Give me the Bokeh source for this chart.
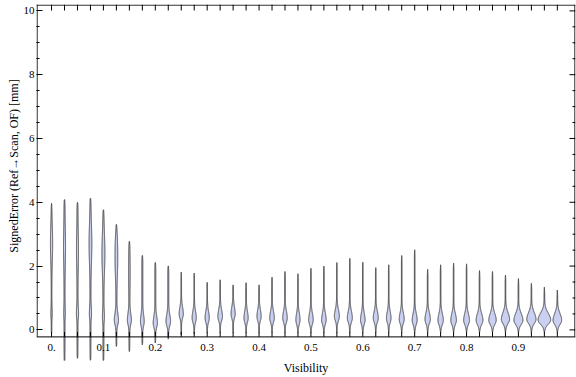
import numpy as np
from bokeh.plotting import figure
from bokeh.models import Range1d, FixedTicker, ColumnDataSource
from bokeh.embed import file_html
from bokeh.resources import INLINE
from bokeh.core.properties import value

# ---------------- data ----------------
positions = [0.0, 0.025, 0.05, 0.075, 0.1, 0.125, 0.15, 0.175, 0.2, 0.225,
             0.25, 0.275, 0.3, 0.325, 0.35, 0.375, 0.4, 0.425, 0.45, 0.475,
             0.5, 0.525, 0.55, 0.575, 0.6, 0.625, 0.65, 0.675, 0.7, 0.725,
             0.75, 0.775, 0.8, 0.825, 0.85, 0.875, 0.9, 0.925, 0.95, 0.975]
tops = [3.97, 4.08, 3.99, 4.12, 3.76, 3.30, 2.77, 2.33, 2.11, 2.00,
        1.81, 1.78, 1.49, 1.57, 1.41, 1.48, 1.41, 1.65, 1.83, 1.76,
        1.93, 2.00, 2.11, 2.24, 2.12, 1.95, 2.04, 2.33, 2.51, 1.90,
        2.04, 2.09, 2.07, 1.86, 1.83, 1.72, 1.61, 1.46, 1.34, 1.25]
bottoms = [-0.10, -1.04, -0.89, -0.96, -0.99, -0.52, -0.68, -0.47, -0.41, -0.29,
           -0.16, -0.12, -0.08, -0.08, -0.08, -0.08, -0.08, -0.08, -0.08, -0.08,
           -0.08, -0.08, -0.08, -0.08, -0.08, -0.08, -0.08, -0.08, -0.08, -0.08,
           -0.08, -0.08, -0.08, -0.08, -0.08, -0.08, -0.08, -0.08, -0.08, -0.08]
# main (low) mode of each distribution and its relative width
mode_low = [0.5, 0.5, 0.5, 0.5, 0.4, 0.3, 0.3, 0.26, 0.21, 0.26,
            0.5, 0.37, 0.37, 0.42, 0.5, 0.37, 0.42, 0.37, 0.37, 0.31,
            0.31, 0.31, 0.42, 0.37, 0.31, 0.37, 0.36, 0.33, 0.3, 0.33,
            0.3, 0.3, 0.3, 0.3, 0.3, 0.33, 0.3, 0.33, 0.31, 0.3]
dens_low = [0.4, 0.3, 0.6, 0.6, 0.5, 1.6, 1.5, 1.4, 1.6, 1.8,
            1.8, 1.8, 1.8, 2.0, 1.8, 1.8, 1.8, 2.0, 2.0, 1.8,
            2.0, 2.0, 2.2, 2.2, 2.0, 2.2, 2.0, 2.2, 2.2, 2.4,
            2.4, 2.5, 2.6, 3.1, 3.4, 3.8, 4.2, 4.3, 6.0, 4.0]
# secondary (high) mode, present in the first violins
mode_high = [2.7, 2.6, 2.5, 2.7, 2.4, 2.3, 1.8, 0, 0, 0,
             0, 0, 0, 0, 0, 0, 0, 0, 0, 0,
             0, 0, 0, 0, 0, 0, 0, 0, 0, 0,
             0, 0, 0, 0, 0, 0, 0, 0, 0, 0]
dens_high = [0.8, 0.5, 0.5, 0.9, 1.0, 0.9, 0.3, 0, 0, 0,
             0, 0, 0, 0, 0, 0, 0, 0, 0, 0,
             0, 0, 0, 0, 0, 0, 0, 0, 0, 0,
             0, 0, 0, 0, 0, 0, 0, 0, 0, 0]

xtick_vals = [0.0, 0.1, 0.2, 0.3, 0.4, 0.5, 0.6, 0.7, 0.8, 0.9]
xtick_text = ["0.", "0.1", "0.2", "0.3", "0.4", "0.5", "0.6", "0.7", "0.8", "0.9"]
ytick_vals = [0, 2, 4, 6, 8, 10]
yminor_vals = [0.5, 1, 1.5, 2.5, 3, 3.5, 4.5, 5, 5.5, 6.5, 7, 7.5, 8.5, 9, 9.5]
y_title = "SignedError (Ref\u2192Scan, OF) [mm]"
x_title = "Visibility"

# ---------------- layout ----------------
W, H = 576, 377
X0, X1 = -0.029, 1.010
Y0, Y1 = -0.96, 10.2
YAX = -0.22          # where the visible bottom frame sits
PXX = 517.0          # approx px per x unit
PXY = 31.9           # approx px per y unit
FONT = "Liberation Serif"

p = figure(width=W, height=H, output_backend="svg", toolbar_location=None,
           x_range=Range1d(X0, X1), y_range=Range1d(Y0, Y1),
           min_border_left=36, min_border_right=1, min_border_top=4,
           min_border_bottom=0)
p.background_fill_color = "white"
p.border_fill_color = "white"
p.outline_line_color = None
p.grid.visible = False

# bottom axis: only its title
xa = p.xaxis[0]
xa.ticker = FixedTicker(ticks=[])
xa.axis_line_color = None
xa.major_tick_line_color = None
xa.minor_tick_line_color = None
xa.major_label_standoff = 0
xa.axis_label = x_title
xa.axis_label_text_font = FONT
xa.axis_label_text_font_size = "12px"
xa.axis_label_text_font_style = "normal"
xa.axis_label_text_color = "#000000"
xa.axis_label_standoff = 0

# left axis: ticks + labels + title (title padded so it centres on the visible frame)
ya = p.yaxis[0]
ya.ticker = FixedTicker(ticks=ytick_vals, minor_ticks=yminor_vals)
ya.axis_line_color = None
ya.major_tick_in = 6
ya.major_tick_out = 0
ya.minor_tick_in = 3
ya.minor_tick_out = 0
ya.major_tick_line_color = "#000000"
ya.minor_tick_line_color = "#000000"
ya.major_label_text_font = FONT
ya.major_label_text_font_size = "11px"
ya.major_label_text_color = "#000000"
ya.major_label_standoff = 2
ya.axis_label = "\u00a0" * 11 + y_title
ya.axis_label_text_font = FONT
ya.axis_label_text_font_size = "12px"
ya.axis_label_text_font_style = "normal"
ya.axis_label_text_color = "#000000"
ya.axis_label_standoff = 0

# ---------------- violins ----------------
vx, vy = [], []
for i, pos in enumerate(positions):
    b, t = bottoms[i], tops[i]
    y = np.linspace(b, t, 400)
    tail = 0.3 * np.clip((y - b) / 0.08, 0, 1) ** 0.5 * np.clip((t - y) / 0.2, 0, 1) ** 0.7
    if b < -0.2:
        tail = tail + 0.2 * np.clip((y - b) / 0.6, 0, 1)
    d = y - mode_low[i]
    s = np.where(d > 0, 0.21, 0.13)
    low = dens_low[i] * np.exp(-0.5 * (d / s) ** 2) * np.clip((y - b) / 0.05, 0, 1)
    high = 0.0
    if dens_high[i] > 0:
        high = dens_high[i] * np.exp(-0.5 * ((y - mode_high[i]) / 0.55) ** 2) * np.clip((t - y) / 0.4, 0, 1)
    hw = (tail + low + high) / PXX
    vx.append(np.concatenate([pos - hw, (pos + hw)[::-1]]).tolist())
    vy.append(np.concatenate([y, y[::-1]]).tolist())

p.patches(vx, vy, fill_color="#c9d0f2", fill_alpha=1.0,
          line_color="#3a3a3a", line_width=0.9)

# ---------------- visible frame ----------------
ex = 0.6 / PXX
ey = 0.6 / PXY
p.segment(x0=[X0 + ex, X1 - ex, X0, X0], y0=[YAX, YAX, YAX, Y1 - ey],
          x1=[X0 + ex, X1 - ex, X1, X1], y1=[Y1, Y1, YAX, Y1 - ey],
          line_color="#000000", line_width=1)

# bottom and top ticks at each category
n = len(positions)
p.segment(x0=positions, y0=[YAX] * n, x1=positions, y1=[YAX + 5 / PXY] * n,
          line_color="#000000", line_width=1)
p.segment(x0=positions, y0=[Y1] * n, x1=positions, y1=[Y1 - 6 / PXY] * n,
          line_color="#000000", line_width=1)

# right-side ticks mirroring the left axis
p.segment(x0=[X1] * len(ytick_vals), y0=ytick_vals,
          x1=[X1 - 6 / PXX] * len(ytick_vals), y1=ytick_vals,
          line_color="#000000", line_width=1)
p.segment(x0=[X1] * len(yminor_vals), y0=yminor_vals,
          x1=[X1 - 3 / PXX] * len(yminor_vals), y1=yminor_vals,
          line_color="#000000", line_width=1)

# bottom tick labels
src = ColumnDataSource(dict(x=xtick_vals, y=[YAX - 10.5 / PXY] * len(xtick_vals), t=xtick_text))
p.text(x="x", y="y", text="t", source=src, text_font=value(FONT),
       text_font_size="11px", text_align="center", text_baseline="middle",
       text_color="#000000")

open("out.html", "w").write(file_html(p, INLINE))
